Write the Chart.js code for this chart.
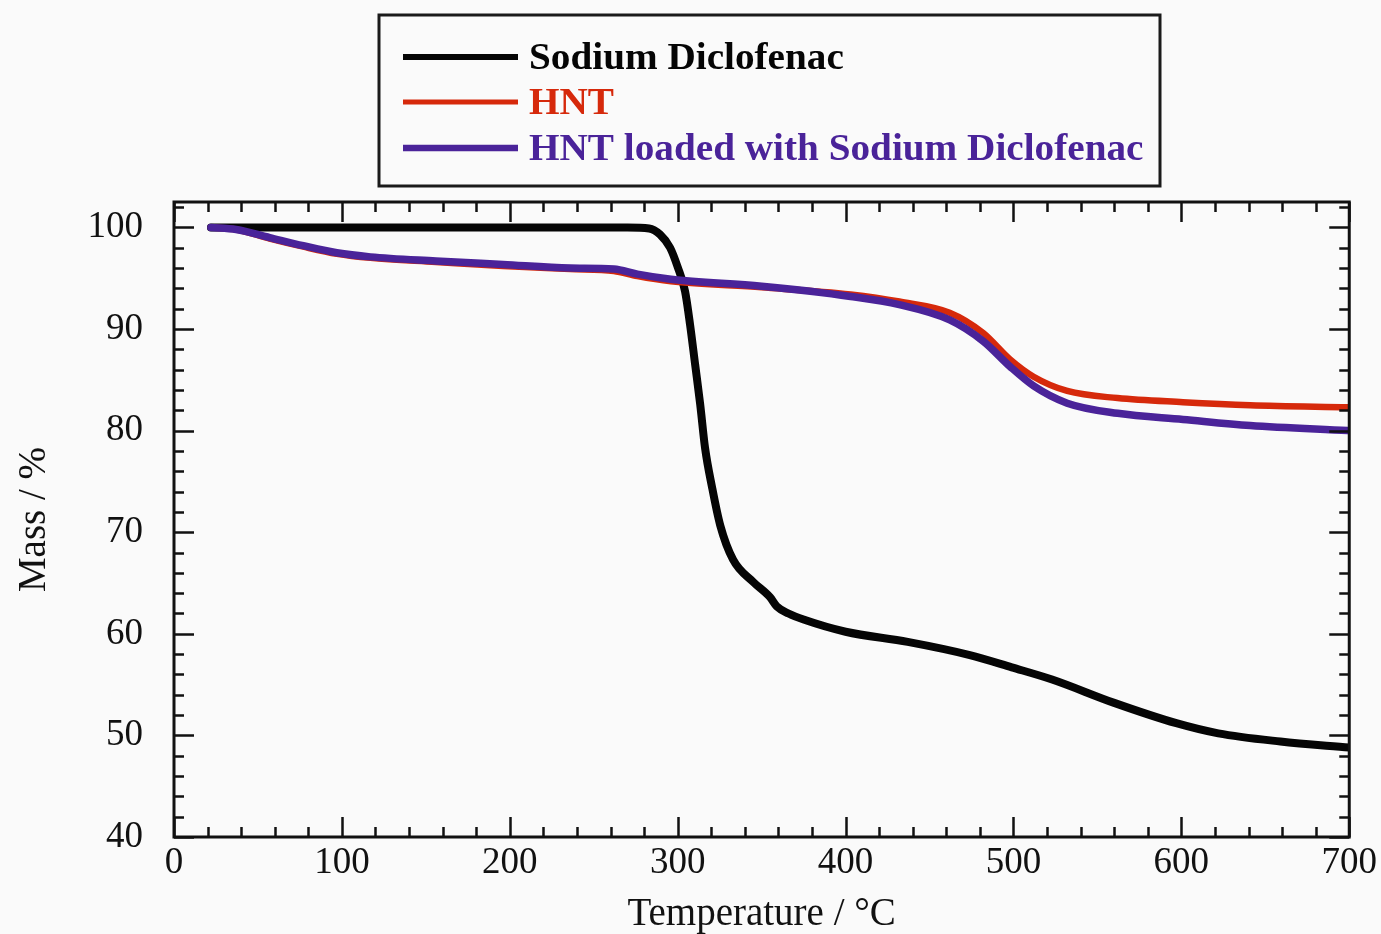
<!DOCTYPE html>
<html><head><meta charset="utf-8">
<script src="https://cdn.jsdelivr.net/npm/chart.js@4"></script>
<style>html,body{margin:0;padding:0;background:#fafafa;overflow:hidden}canvas{display:block}</style>
</head><body>
<canvas id="c" width="1381" height="934"></canvas>
<script>
// ---- data ----
const seriesNames = ['Sodium Diclofenac', 'HNT', 'HNT loaded with Sodium Diclofenac'];
const seriesColors = ['#050505', '#d6290b', '#4a2399'];

const tempSD = [22, 100, 200, 270, 283, 289.5, 295.5, 300, 304.4, 307.4, 310.4, 313.4, 316.3, 320.5, 325.3, 333, 345, 355, 359, 366, 375, 400, 437, 474, 499, 523, 560, 597, 622, 659, 700];
const massSD = [100, 100, 100, 100, 99.9, 99.3, 98, 96.1, 93.7, 90.4, 86.5, 82.6, 78.3, 74.4, 70.7, 67.3, 65.1, 63.6, 62.7, 62, 61.4, 60.2, 59.2, 57.9, 56.7, 55.5, 53.2, 51.2, 50.2, 49.4, 48.8];

const tempHNT = [22, 37, 57, 77, 97, 117, 156, 196, 236, 262, 276, 296, 350, 403, 432, 462, 482, 498, 512, 532, 562, 601, 641, 699];
const massHNT = [100, 99.8, 98.9, 98.1, 97.4, 97.0, 96.6, 96.2, 95.9, 95.7, 95.2, 94.7, 94.1, 93.4, 92.7, 91.6, 89.6, 87.0, 85.3, 83.9, 83.2, 82.8, 82.5, 82.3];

const tempLoaded = [22, 37, 57, 77, 97, 117, 156, 196, 236, 262, 276, 296, 350, 403, 432, 462, 482, 498, 512, 532, 562, 601, 641, 699];
const massLoaded = [100, 99.8, 99.0, 98.2, 97.5, 97.1, 96.7, 96.35, 96.0, 95.9, 95.4, 94.9, 94.2, 93.2, 92.4, 90.9, 88.8, 86.3, 84.4, 82.7, 81.7, 81.1, 80.5, 80.0];

const xTickValues = [0, 100, 200, 300, 400, 500, 600, 700];
const yTickValues = [40, 50, 60, 70, 80, 90, 100];
const xMinorStep = 20, yMinorStep = 2;
const xTitle = 'Temperature / °C';
const yTitle = 'Mass / %';

const SERIF = '"Liberation Serif", "Times New Roman", Times, serif';
const toPts = (xs, ys) => xs.map((x, i) => ({x, y: ys[i]}));

const bgPlugin = {
  id: 'bg',
  beforeDraw(chart) {
    const {ctx, width, height} = chart;
    ctx.save(); ctx.fillStyle = '#fafafa'; ctx.fillRect(0, 0, width, height); ctx.restore();
  }
};

const framePlugin = {
  id: 'frame',
  afterDraw(chart) {
    const {ctx, chartArea: a, scales: {x, y}} = chart;
    ctx.save();
    ctx.strokeStyle = '#111';
    ctx.lineWidth = 3;
    ctx.strokeRect(a.left, a.top, a.right - a.left, a.bottom - a.top);
    ctx.lineWidth = 2.5;
    ctx.beginPath();
    for (let v = x.min; v <= x.max + 1e-9; v += xMinorStep) {
      const px = Math.round(x.getPixelForValue(v)) + 0.5;
      const L = (v % 100 === 0) ? 20 : 10;
      ctx.moveTo(px, a.bottom); ctx.lineTo(px, a.bottom - L);
      ctx.moveTo(px, a.top); ctx.lineTo(px, a.top + L);
    }
    for (let v = y.min; v <= y.max + 1e-9; v += yMinorStep) {
      const py = Math.round(y.getPixelForValue(v)) + 0.5;
      const L = (v % 10 === 0) ? 20 : 10;
      ctx.moveTo(a.left, py); ctx.lineTo(a.left + L, py);
      ctx.moveTo(a.right, py); ctx.lineTo(a.right - L, py);
    }
    ctx.stroke();
    ctx.restore();
  }
};

const legendPlugin = {
  id: 'boxLegend',
  afterDraw(chart) {
    const ctx = chart.ctx;
    ctx.save();
    ctx.strokeStyle = '#1a1a1a';
    ctx.lineWidth = 3;
    ctx.strokeRect(379, 15, 781, 171);
    const rows = [57, 102, 148];
    const widths = [6, 5, 6.5];
    chart.data.datasets.forEach((ds, i) => {
      ctx.strokeStyle = ds.borderColor;
      ctx.lineWidth = widths[i];
      ctx.beginPath(); ctx.moveTo(403, rows[i]); ctx.lineTo(518, rows[i]); ctx.stroke();
      ctx.save();
      ctx.translate(529, rows[i] + 2);
      ctx.scale(1.06, 1);
      ctx.font = 'bold 37px ' + SERIF;
      ctx.textBaseline = 'middle';
      ctx.textAlign = 'left';
      ctx.fillStyle = ds.borderColor;
      ctx.fillText(ds.label, 0, 0);
      ctx.restore();
    });
    ctx.restore();
  }
};

new Chart(document.getElementById('c'), {
  type: 'scatter',
  data: {
    datasets: [
      {label: seriesNames[0], data: toPts(tempSD, massSD), borderColor: seriesColors[0], backgroundColor: seriesColors[0], borderWidth: 8, order: 3},
      {label: seriesNames[1], data: toPts(tempHNT, massHNT), borderColor: seriesColors[1], backgroundColor: seriesColors[1], borderWidth: 6.5, order: 2},
      {label: seriesNames[2], data: toPts(tempLoaded, massLoaded), borderColor: seriesColors[2], backgroundColor: seriesColors[2], borderWidth: 7.5, order: 1}
    ].map(d => Object.assign(d, {showLine: true, pointRadius: 0, cubicInterpolationMode: 'monotone', fill: false, borderCapStyle: 'round', borderJoinStyle: 'round'}))
  },
  options: {
    responsive: false,
    animation: false,
    devicePixelRatio: 1,
    layout: {padding: {top: 202, left: 0, right: 31, bottom: 0}},
    plugins: {legend: {display: false}, tooltip: {enabled: false}},
    scales: {
      x: {
        type: 'linear', min: 0, max: 700,
        grid: {display: false, drawTicks: false},
        border: {display: false},
        afterBuildTicks: s => { s.ticks = xTickValues.map(v => ({value: v})); },
        afterFit: s => { s.height = 97; },
        ticks: {color: '#111', padding: 4, maxRotation: 0, autoSkip: false, font: {family: SERIF, size: 37}},
        title: {display: true, text: xTitle, color: '#111', padding: {top: 0, bottom: -2}, font: {family: SERIF, size: 39, lineHeight: 1.1}}
      },
      y: {
        type: 'linear', min: 40, max: 102.5,
        grid: {display: false, drawTicks: false},
        border: {display: false},
        afterBuildTicks: s => { s.ticks = yTickValues.map(v => ({value: v})); },
        afterFit: s => { s.width = 174; },
        ticks: {color: '#111', padding: 31, autoSkip: false, font: {family: SERIF, size: 37}},
        title: {display: true, text: yTitle, color: '#111', padding: {top: 13, bottom: 0}, font: {family: SERIF, size: 39, lineHeight: 1.1}}
      }
    }
  },
  plugins: [bgPlugin, framePlugin, legendPlugin]
});
</script>
</body></html>
